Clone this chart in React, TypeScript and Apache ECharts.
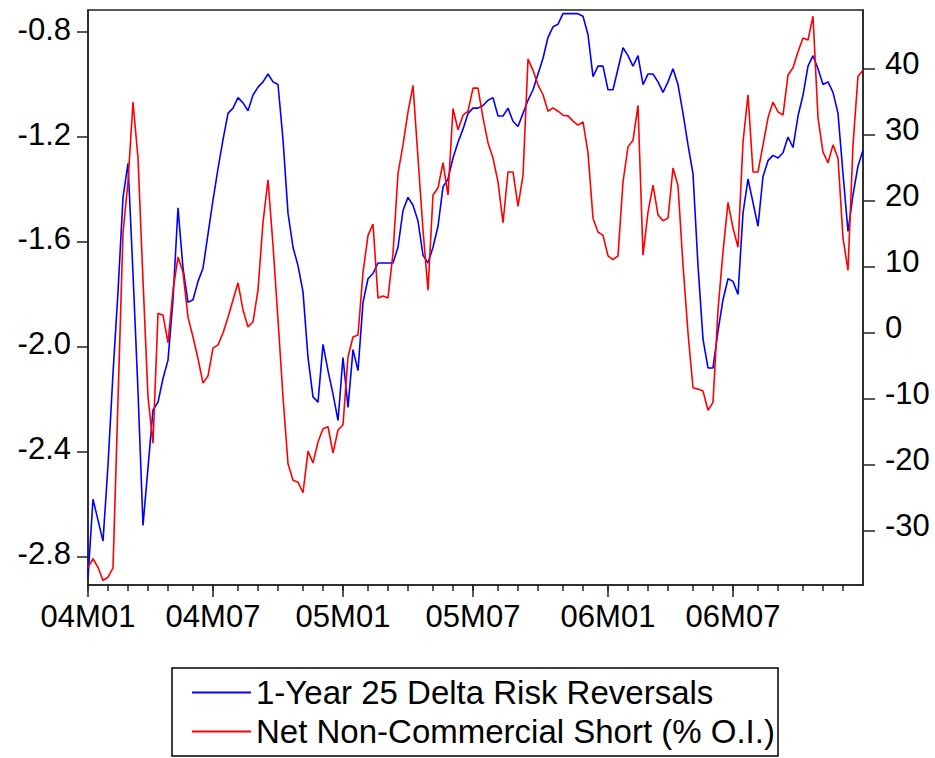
import React, { useEffect, useRef } from "react";
import * as echarts from "echarts";

// 1-Year 25 Delta Risk Reversals (left axis), weekly readings
const riskReversals: number[] = [
  -2.88, -2.58, -2.66, -2.74, -2.45, -2.10, -1.79, -1.43, -1.30, -1.72,
  -2.17, -2.68, -2.46, -2.24, -2.21, -2.12, -2.05, -1.82, -1.47, -1.70,
  -1.83, -1.82, -1.75, -1.70, -1.57, -1.44, -1.32, -1.21, -1.11, -1.09,
  -1.05, -1.07, -1.10, -1.04, -1.01, -0.99, -0.96, -0.99, -1.00, -1.21,
  -1.49, -1.62, -1.69, -1.79, -2.04, -2.19, -2.21, -1.99, -2.09, -2.18,
  -2.28, -2.04, -2.23, -2.01, -2.09, -1.83, -1.74, -1.72, -1.68, -1.68,
  -1.68, -1.68, -1.62, -1.48, -1.43, -1.46, -1.52, -1.65, -1.68, -1.62,
  -1.54, -1.39, -1.36, -1.28, -1.22, -1.17, -1.11, -1.09, -1.09, -1.08,
  -1.06, -1.05, -1.12, -1.12, -1.09, -1.14, -1.16, -1.11, -1.06, -1.02,
  -0.96, -0.90, -0.82, -0.78, -0.77, -0.73, -0.73, -0.73, -0.73, -0.74,
  -0.81, -0.97, -0.93, -0.93, -1.02, -1.02, -0.94, -0.86, -0.89, -0.93,
  -0.89, -1.00, -0.96, -0.96, -0.99, -1.03, -0.99, -0.94, -1.00, -1.11,
  -1.23, -1.34, -1.69, -1.97, -2.08, -2.08, -1.94, -1.82, -1.74, -1.75,
  -1.80, -1.49, -1.36, -1.45, -1.54, -1.35, -1.29, -1.27, -1.28, -1.26,
  -1.20, -1.24, -1.12, -1.04, -0.93, -0.89, -0.94, -1.00, -0.99, -1.03,
  -1.11, -1.34, -1.56, -1.42, -1.31, -1.25,
];

// Net Non-Commercial Short (% O.I.) (right axis), weekly readings
const netShort: number[] = [
  -35.5, -34.2, -35.5, -37.5, -37.0, -35.6, -10.2, 15.2, 22.9, 35.0,
  26.5, 8.0, -9.7, -16.7, 3.0, 2.7, -1.5, 6.5, 11.5, 9.2,
  2.4, -0.6, -3.9, -7.6, -6.5, -2.3, -1.8, 0.0, 2.4, 5.0,
  7.6, 3.5, 0.9, 1.7, 6.5, 16.8, 23.2, 13.3, 2.0, -9.7,
  -19.8, -22.3, -22.6, -24.2, -17.9, -19.7, -16.5, -14.5, -14.2, -18.2,
  -14.7, -13.9, -3.6, -0.6, -0.3, 9.2, 14.8, 16.5, 5.3, 5.6,
  5.3, 12.1, 24.2, 28.5, 33.5, 37.5, 26.5, 15.6, 6.5, 20.9,
  22.0, 25.8, 20.9, 34.0, 30.8, 33.0, 33.6, 37.1, 37.1, 32.6,
  28.8, 26.5, 22.9, 16.7, 24.4, 24.4, 19.2, 23.9, 41.5, 39.8,
  37.6, 36.1, 33.6, 34.1, 33.6, 33.0, 32.9, 32.1, 31.5, 32.0,
  27.3, 17.4, 15.3, 14.8, 11.7, 11.1, 11.7, 22.9, 28.2, 29.2,
  34.5, 11.8, 18.3, 22.4, 17.9, 17.0, 17.4, 25.0, 22.3, 10.3,
  0.0, -8.3, -8.5, -8.8, -11.7, -10.5, 3.5, 12.3, 19.8, 15.9,
  13.0, 28.9, 36.1, 24.4, 24.4, 28.5, 32.6, 35.0, 33.5, 33.0,
  39.1, 40.2, 42.6, 44.7, 44.4, 48.0, 32.6, 27.4, 25.8, 28.5,
  26.5, 14.4, 9.5, 28.5, 38.9, 39.8,
];

const leftTicks: number[] = [-2.8, -2.4, -2.0, -1.6, -1.2, -0.8];
const rightTicks: number[] = [-30, -20, -10, 0, 10, 20, 30, 40];
const seriesNames: string[] = [
  "1-Year 25 Delta Risk Reversals",
  "Net Non-Commercial Short (% O.I.)",
];

// weekly observation dates (category axis)
const weekDates: string[] = (() => {
  const out: string[] = [];
  const t0 = Date.UTC(2004, 0, 10);
  for (let i = 0; i < riskReversals.length; i++) {
    out.push(new Date(t0 + i * 7 * 86400000).toISOString().slice(0, 10));
  }
  return out;
})();

const isMonthStart = (i: number) =>
  i === 0 || weekDates[i].slice(0, 7) !== weekDates[i - 1].slice(0, 7);
const isMajor = (i: number) => {
  if (!isMonthStart(i)) return false;
  const m = weekDates[i].slice(5, 7);
  return m === "01" || m === "07";
};
const fmtDate = (v: string) => v.slice(2, 4) + "M" + v.slice(5, 7);

const FONT = "'Liberation Sans', Arial, sans-serif";
const AXIS_COLOR = "#222";

export default function App() {
  const ref = useRef<HTMLDivElement>(null);
  useEffect(() => {
    if (!ref.current) return;
    const chart = echarts.init(ref.current, undefined, { renderer: "svg" });
    chart.setOption({
      animation: false,
      backgroundColor: "#ffffff",
      grid: {
        left: 88,
        right: 72,
        top: 10,
        bottom: 173,
        show: true,
        borderColor: AXIS_COLOR,
        borderWidth: 1.5,
        backgroundColor: "transparent",
      },
      xAxis: [
        {
          type: "category",
          data: weekDates,
          boundaryGap: false,
          position: "bottom",
          axisLine: { show: true, onZero: false, lineStyle: { color: AXIS_COLOR, width: 1.5 } },
          axisTick: {
            show: true,
            interval: (i: number) => isMonthStart(i),
            length: 6,
            lineStyle: { color: AXIS_COLOR, width: 1.5 },
          },
          axisLabel: { show: false },
          splitLine: { show: false },
        },
        {
          type: "category",
          data: weekDates,
          boundaryGap: false,
          position: "bottom",
          axisLine: { show: false, onZero: false },
          axisTick: {
            show: true,
            interval: (i: number) => isMajor(i),
            length: 12,
            lineStyle: { color: AXIS_COLOR, width: 1.5 },
          },
          axisLabel: {
            show: true,
            interval: (i: number) => isMajor(i),
            formatter: (v: string) => fmtDate(v),
            fontSize: 31,
            fontFamily: FONT,
            color: "#000",
            margin: 16,
          },
          splitLine: { show: false },
        },
      ],
      yAxis: [
        {
          type: "value",
          position: "left",
          min: -2.907,
          max: -0.716,
          axisLine: { show: true, onZero: false, lineStyle: { color: AXIS_COLOR, width: 1.5 } },
          axisTick: {
            show: true,
            length: 11,
            customValues: leftTicks,
            lineStyle: { color: AXIS_COLOR, width: 1.5 },
          },
          axisLabel: {
            customValues: leftTicks,
            formatter: (v: number) => v.toFixed(1),
            fontSize: 31,
            fontFamily: FONT,
            color: "#000",
            margin: 17,
            verticalAlign: "bottom",
            lineHeight: 6,
          },
          splitLine: { show: false },
        },
        {
          type: "value",
          position: "right",
          min: -38.18,
          max: 48.94,
          axisLine: { show: true, onZero: false, lineStyle: { color: AXIS_COLOR, width: 1.5 } },
          axisTick: {
            show: true,
            length: 12,
            customValues: rightTicks,
            lineStyle: { color: AXIS_COLOR, width: 1.5 },
          },
          axisLabel: {
            customValues: rightTicks,
            formatter: (v: number) => String(Math.round(v)),
            fontSize: 31,
            fontFamily: FONT,
            color: "#000",
            margin: 22,
            verticalAlign: "bottom",
            lineHeight: 12,
          },
          splitLine: { show: false },
        },
      ],
      legend: {
        orient: "vertical",
        left: 192,
        top: 673,
        padding: 0,
        itemGap: 0,
        itemWidth: 59,
        itemHeight: 2,
        itemTextGap: 12,
        icon: "rect",
        textStyle: { fontSize: 33, fontFamily: FONT, color: "#000", lineHeight: 39 },
        data: seriesNames,
      },
      graphic: [
        {
          type: "rect",
          shape: { x: 172, y: 668, width: 606, height: 88 },
          style: { fill: "none", stroke: "#000", lineWidth: 1.5 },
          silent: true,
        },
      ],
      series: [
        {
          name: seriesNames[0],
          type: "line",
          xAxisIndex: 0,
          yAxisIndex: 0,
          data: riskReversals,
          showSymbol: false,
          symbol: "none",
          lineStyle: { color: "#0000ff", width: 1.6 },
          itemStyle: { color: "#0000ff" },
        },
        {
          name: seriesNames[1],
          type: "line",
          xAxisIndex: 0,
          yAxisIndex: 1,
          data: netShort,
          showSymbol: false,
          symbol: "none",
          lineStyle: { color: "#ff0000", width: 1.6 },
          itemStyle: { color: "#ff0000" },
        },
      ],
    });
    return () => chart.dispose();
  }, []);
  return (
    <div
      ref={ref}
      style={{ position: "fixed", left: 0, top: 0, width: 935, height: 758 }}
    />
  );
}
